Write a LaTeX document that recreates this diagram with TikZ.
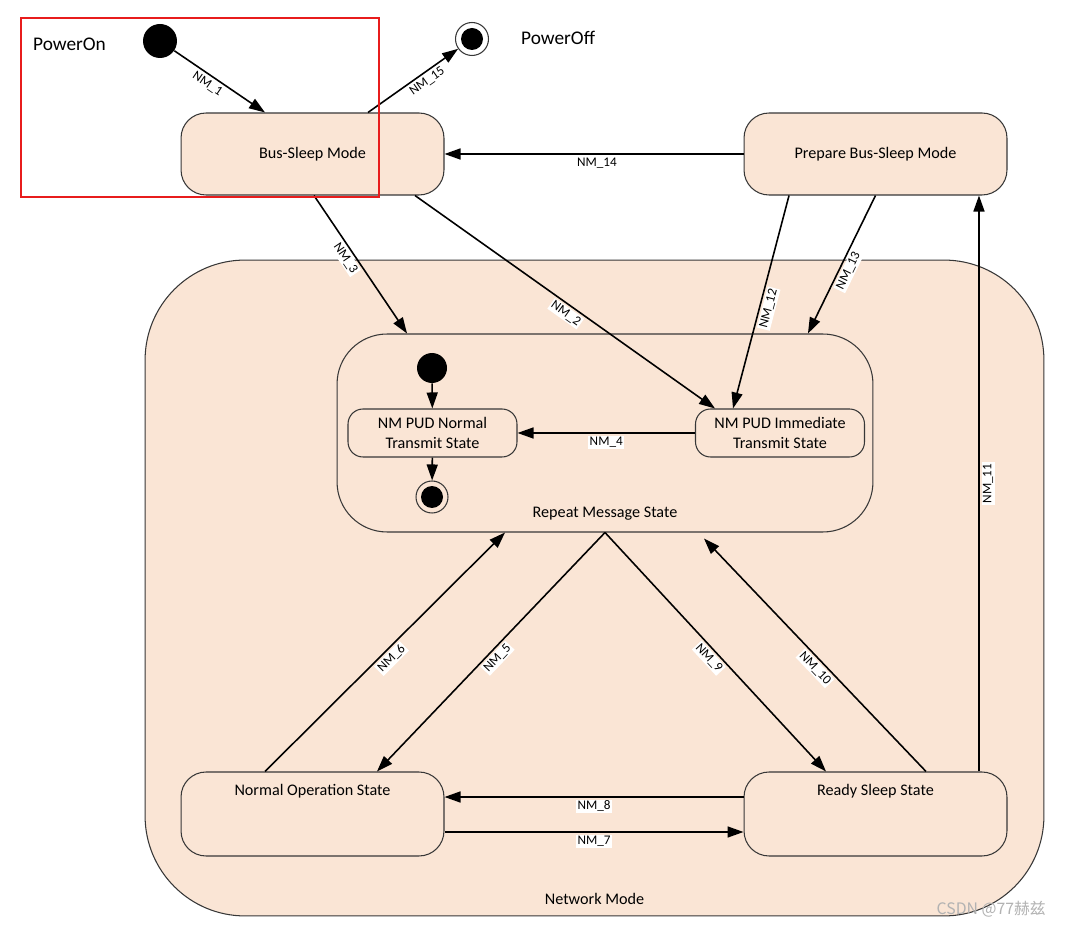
\documentclass[tikz,border=0pt]{standalone}
\usepackage{fontspec}
\setmainfont{Carlito}
\newfontfamily\cjk{Noto Sans CJK SC}
\usetikzlibrary{arrows.meta}
\definecolor{peach}{RGB}{250,229,213}
\definecolor{frame}{RGB}{55,55,55}
\definecolor{hilite}{RGB}{232,28,28}
\begin{document}
\begin{tikzpicture}
                [x=0.02cm, y=-0.02cm,
                 mode/.style={rectangle, rounded corners=0.5cm, draw=frame, fill=peach, line width=0.6pt, minimum width=5.26cm, minimum height=1.64cm, inner sep=0pt, font=\fontsize{9.2}{11}\selectfont},
                 substate/.style={rectangle, rounded corners=0.3cm, draw=frame, fill=peach, line width=0.6pt, minimum width=3.38cm, minimum height=0.96cm, inner sep=0pt, align=center, font=\fontsize{9.2}{11}\selectfont},
                 initdot/.style={circle, fill=black, minimum size=0.68cm, inner sep=0pt},
                 findot/.style={circle, draw=frame, line width=0.6pt, minimum size=0.66cm, inner sep=0pt, path picture={\fill[black] (path picture bounding box.center) circle (0.22cm);}},
                 trans/.style={draw, line width=0.9pt, -{Triangle[length=3.2mm, width=2.2mm]}},
                 tlabel/.style={sloped, below=1pt, fill=white, inner sep=0.8pt, font=\fontsize{7.5}{9}\selectfont},
                 title/.style={font=\fontsize{9.2}{11}\selectfont, inner sep=1pt}]
                \fill[white] (0,0) rectangle (1065,925);
                \useasboundingbox (0,0) rectangle (1065,925);
                % Define nodes
                \node[mode, rounded corners=2cm, minimum width=17.98cm, minimum height=13.12cm,
                      label={[title, anchor=south, yshift=0.2cm]south:Network Mode}] (net) at (594.5,588) {};
                \node[mode, rounded corners=1cm, minimum width=10.72cm, minimum height=3.96cm,
                      label={[title, anchor=south, yshift=0.2cm]south:Repeat Message State}] (rep) at (605,433) {};
                \node[initdot] (start) at (160,41) {};
                \node[findot, fill=white] (off) at (472,39) {};
                \node[anchor=west, font=\fontsize{11}{13}\selectfont] (ontext) at (27,44) {PowerOn};
                \node[anchor=west, font=\fontsize{11}{13}\selectfont] (offtext) at (515,38) {PowerOff};
                \node[mode] (bus) at (312.5,154) {Bus-Sleep Mode};
                \node[mode] (prep) at (875.5,154) {Prepare Bus-Sleep Mode};
                \node[initdot, minimum size=0.6cm] (rstart) at (432,368) {};
                \node[substate] (pudn) at (432.5,433) {NM PUD Normal\\Transmit State};
                \node[substate] (pudi) at (780,433) {NM PUD Immediate\\Transmit State};
                \node[findot, minimum size=0.64cm] (rend) at (432,497) {};
                \node[mode, minimum height=1.68cm,
                      label={[title, anchor=north, yshift=-0.22cm]north:Normal Operation State}] (normop) at (312.5,814) {};
                \node[mode, minimum height=1.68cm,
                      label={[title, anchor=north, yshift=-0.22cm]north:Ready Sleep State}] (ready) at (875.5,814) {};
                \node[anchor=east, text=black!30, font=\cjk\fontsize{9}{11}\selectfont] (mark) at (1052,909) {CSDN @77赫兹};
                % Define edges
                \draw[trans] (start) -- ([xshift=-0.95cm]bus.north) node[tlabel, pos=0.42] {NM\_1};
                \draw[trans] ([xshift=1.11cm]bus.north) -- (off) node[tlabel, pos=0.6] {NM\_15};
                \draw[trans] (prep.west) -- (bus.east) node[tlabel, pos=0.49] {NM\_14};
                \draw[trans] ([xshift=0.03cm]bus.south) -- ([xshift=-3.96cm]rep.north) node[tlabel, pos=0.42] {NM\_3};
                \draw[trans] ([xshift=2.05cm]bus.south) -- ([xshift=-1.3cm]pudi.north) node[tlabel, pos=0.52, below=0pt] {NM\_2};
                \draw[trans] ([xshift=-1.73cm]prep.south) -- ([xshift=-0.94cm]pudi.north) node[tlabel, pos=0.52] {NM\_12};
                \draw[trans] (prep.south) -- ([xshift=4.06cm]rep.north) node[tlabel, pos=0.52] {NM\_13};
                \draw[trans] ([xshift=2.07cm]ready.north) -- ([xshift=2.07cm]prep.south) node[tlabel, pos=0.5] {NM\_11};
                \draw[trans] (pudi.west) -- (pudn.east) node[tlabel, pos=0.5] {NM\_4};
                \draw[trans] (rstart) -- (pudn);
                \draw[trans] (pudn) -- (rend);
                \draw[trans] ([xshift=-0.95cm]normop.north) -- ([xshift=-2cm]rep.south) node[tlabel, pos=0.5] {NM\_6};
                \draw[trans] (rep.south) -- ([xshift=1.29cm]normop.north) node[tlabel, pos=0.5] {NM\_5};
                \draw[trans] (rep.south) -- ([xshift=-0.99cm]ready.north) node[tlabel, pos=0.5] {NM\_9};
                \draw[trans] ([xshift=1.01cm]ready.north) -- ([xshift=1.98cm, yshift=-0.12cm]rep.south) node[tlabel, pos=0.47] {NM\_10};
                \draw[trans] ([yshift=0.34cm]ready.west) -- ([yshift=0.34cm]normop.east) node[tlabel, pos=0.5] {NM\_8};
                \draw[trans] ([yshift=-0.36cm]normop.east) -- ([yshift=-0.36cm]ready.west) node[tlabel, pos=0.5] {NM\_7};
                % PowerOn frame
                \draw[hilite, line width=1pt] (21,18) rectangle (379,197);
            \end{tikzpicture}
\end{document}
